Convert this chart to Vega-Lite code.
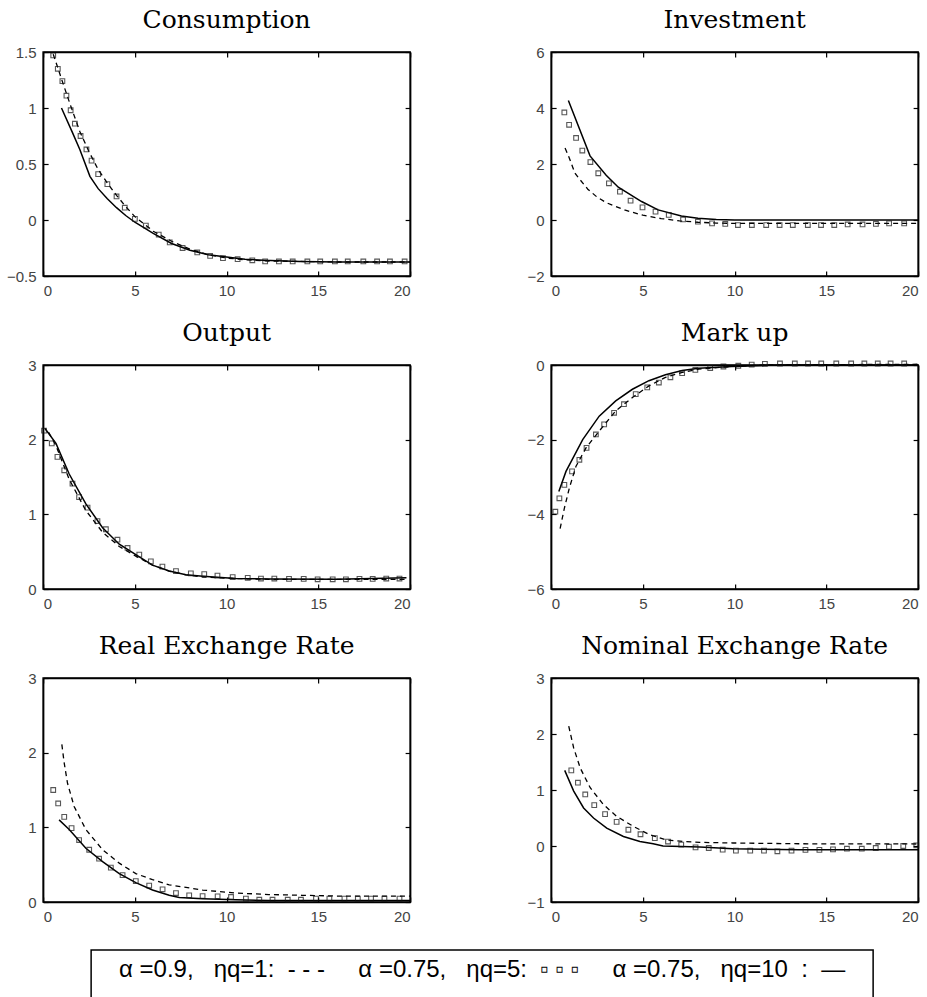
{
  "$schema": "https://vega.github.io/schema/vega-lite/v6.json",
  "background": "white",
  "padding": {"left": 5, "top": 7, "right": 5, "bottom": 5},
  "config": {
    "view": {"stroke": "black", "strokeWidth": 1.5},
    "axis": {"grid": false, "domainColor": "black", "domainWidth": 1.5, "tickColor": "black", "tickWidth": 1.2, "tickSize": -5, "labelPadding": 12, "labelFont": "Liberation Sans", "labelFontSize": 15, "labelColor": "#444", "format": "~g"},
    "title": {"font": "DejaVu Serif", "fontSize": 25, "fontWeight": "normal", "color": "black", "offset": 12, "anchor": "middle"},
    "line": {"color": "black"},
    "point": {"color": "#111"}
  },
  "datasets": {
    "d": [
      {"p":"C","s":"d","x":0.55,"y":1.48},{"p":"C","s":"d","x":0.8,"y":1.36},{"p":"C","s":"d","x":1,"y":1.26},{"p":"C","s":"d","x":1.5,"y":1.02},{"p":"C","s":"d","x":2,"y":0.79},{"p":"C","s":"d","x":2.5,"y":0.61},{"p":"C","s":"d","x":3,"y":0.45},{"p":"C","s":"d","x":3.5,"y":0.33},{"p":"C","s":"d","x":4,"y":0.22},{"p":"C","s":"d","x":4.5,"y":0.12},{"p":"C","s":"d","x":5,"y":0.03},{"p":"C","s":"d","x":6,"y":-0.1},{"p":"C","s":"d","x":7,"y":-0.19},{"p":"C","s":"d","x":8,"y":-0.26},{"p":"C","s":"d","x":9,"y":-0.31},{"p":"C","s":"d","x":10,"y":-0.34},{"p":"C","s":"d","x":11,"y":-0.355},{"p":"C","s":"d","x":12,"y":-0.365},{"p":"C","s":"d","x":14,"y":-0.37},{"p":"C","s":"d","x":16,"y":-0.375},{"p":"C","s":"d","x":18,"y":-0.375},{"p":"C","s":"d","x":20,"y":-0.375},
      {"p":"C","s":"l","x":1,"y":1.0},{"p":"C","s":"l","x":1.6,"y":0.78},{"p":"C","s":"l","x":2,"y":0.63},{"p":"C","s":"l","x":2.55,"y":0.39},{"p":"C","s":"l","x":3,"y":0.28},{"p":"C","s":"l","x":3.5,"y":0.19},{"p":"C","s":"l","x":4,"y":0.11},{"p":"C","s":"l","x":4.5,"y":0.04},{"p":"C","s":"l","x":5,"y":-0.02},{"p":"C","s":"l","x":6,"y":-0.12},{"p":"C","s":"l","x":7,"y":-0.21},{"p":"C","s":"l","x":8,"y":-0.27},{"p":"C","s":"l","x":9,"y":-0.31},{"p":"C","s":"l","x":10,"y":-0.33},{"p":"C","s":"l","x":11,"y":-0.35},{"p":"C","s":"l","x":12,"y":-0.36},{"p":"C","s":"l","x":14,"y":-0.37},{"p":"C","s":"l","x":16,"y":-0.375},{"p":"C","s":"l","x":18,"y":-0.375},{"p":"C","s":"l","x":20,"y":-0.375},
      {"p":"C","s":"q","x":0.55,"y":1.47},{"p":"C","s":"q","x":0.8,"y":1.35},{"p":"C","s":"q","x":1.05,"y":1.24},{"p":"C","s":"q","x":1.27,"y":1.11},{"p":"C","s":"q","x":1.5,"y":0.98},{"p":"C","s":"q","x":1.73,"y":0.86},{"p":"C","s":"q","x":2.04,"y":0.75},{"p":"C","s":"q","x":2.36,"y":0.63},{"p":"C","s":"q","x":2.64,"y":0.53},{"p":"C","s":"q","x":3.0,"y":0.41},{"p":"C","s":"q","x":3.5,"y":0.32},{"p":"C","s":"q","x":4.0,"y":0.21},{"p":"C","s":"q","x":4.45,"y":0.11},{"p":"C","s":"q","x":5.0,"y":0.01},{"p":"C","s":"q","x":5.6,"y":-0.05},{"p":"C","s":"q","x":6.3,"y":-0.13},{"p":"C","s":"q","x":6.9,"y":-0.2},{"p":"C","s":"q","x":7.6,"y":-0.25},{"p":"C","s":"q","x":8.4,"y":-0.29},{"p":"C","s":"q","x":9.1,"y":-0.32},{"p":"C","s":"q","x":9.8,"y":-0.34},{"p":"C","s":"q","x":10.6,"y":-0.35},{"p":"C","s":"q","x":11.4,"y":-0.36},{"p":"C","s":"q","x":12.1,"y":-0.37},{"p":"C","s":"q","x":12.85,"y":-0.37},{"p":"C","s":"q","x":13.6,"y":-0.37},{"p":"C","s":"q","x":14.4,"y":-0.37},{"p":"C","s":"q","x":15.1,"y":-0.37},{"p":"C","s":"q","x":15.9,"y":-0.37},{"p":"C","s":"q","x":16.6,"y":-0.37},{"p":"C","s":"q","x":17.45,"y":-0.37},{"p":"C","s":"q","x":18.2,"y":-0.37},{"p":"C","s":"q","x":18.9,"y":-0.37},{"p":"C","s":"q","x":19.7,"y":-0.37},

      {"p":"I","s":"d","x":0.76,"y":2.57},{"p":"I","s":"d","x":1,"y":2.2},{"p":"I","s":"d","x":1.3,"y":1.67},{"p":"I","s":"d","x":1.5,"y":1.5},{"p":"I","s":"d","x":2,"y":1.1},{"p":"I","s":"d","x":2.5,"y":0.82},{"p":"I","s":"d","x":3,"y":0.62},{"p":"I","s":"d","x":4,"y":0.36},{"p":"I","s":"d","x":5,"y":0.17},{"p":"I","s":"d","x":6,"y":0.05},{"p":"I","s":"d","x":7,"y":-0.03},{"p":"I","s":"d","x":8,"y":-0.08},{"p":"I","s":"d","x":9,"y":-0.11},{"p":"I","s":"d","x":10,"y":-0.12},{"p":"I","s":"d","x":12,"y":-0.12},{"p":"I","s":"d","x":15,"y":-0.12},{"p":"I","s":"d","x":18,"y":-0.12},{"p":"I","s":"d","x":20,"y":-0.12},
      {"p":"I","s":"l","x":0.94,"y":4.27},{"p":"I","s":"l","x":2.12,"y":2.29},{"p":"I","s":"l","x":3,"y":1.6},{"p":"I","s":"l","x":3.66,"y":1.17},{"p":"I","s":"l","x":4.93,"y":0.66},{"p":"I","s":"l","x":5.83,"y":0.36},{"p":"I","s":"l","x":7.1,"y":0.14},{"p":"I","s":"l","x":8,"y":0.06},{"p":"I","s":"l","x":9,"y":0.02},{"p":"I","s":"l","x":10,"y":0.0},{"p":"I","s":"l","x":15,"y":0.0},{"p":"I","s":"l","x":20,"y":0.0},
      {"p":"I","s":"q","x":0.72,"y":3.84},{"p":"I","s":"q","x":0.98,"y":3.4},{"p":"I","s":"q","x":1.36,"y":2.93},{"p":"I","s":"q","x":1.7,"y":2.48},{"p":"I","s":"q","x":2.14,"y":2.07},{"p":"I","s":"q","x":2.57,"y":1.67},{"p":"I","s":"q","x":3.15,"y":1.31},{"p":"I","s":"q","x":3.75,"y":1.01},{"p":"I","s":"q","x":4.33,"y":0.69},{"p":"I","s":"q","x":4.98,"y":0.45},{"p":"I","s":"q","x":5.69,"y":0.3},{"p":"I","s":"q","x":6.41,"y":0.18},{"p":"I","s":"q","x":7.19,"y":0.02},{"p":"I","s":"q","x":8.0,"y":-0.06},{"p":"I","s":"q","x":8.77,"y":-0.12},{"p":"I","s":"q","x":9.49,"y":-0.14},{"p":"I","s":"q","x":10.18,"y":-0.18},{"p":"I","s":"q","x":10.94,"y":-0.18},{"p":"I","s":"q","x":11.72,"y":-0.18},{"p":"I","s":"q","x":12.45,"y":-0.18},{"p":"I","s":"q","x":13.17,"y":-0.18},{"p":"I","s":"q","x":13.99,"y":-0.18},{"p":"I","s":"q","x":14.71,"y":-0.18},{"p":"I","s":"q","x":15.43,"y":-0.18},{"p":"I","s":"q","x":16.16,"y":-0.16},{"p":"I","s":"q","x":16.97,"y":-0.16},{"p":"I","s":"q","x":17.7,"y":-0.14},{"p":"I","s":"q","x":18.42,"y":-0.12},{"p":"I","s":"q","x":19.24,"y":-0.12},

      {"p":"O","s":"d","x":0.3,"y":2.1},{"p":"O","s":"d","x":0.7,"y":1.92},{"p":"O","s":"d","x":1.42,"y":1.47},{"p":"O","s":"d","x":2.33,"y":1.05},{"p":"O","s":"d","x":3.24,"y":0.76},{"p":"O","s":"d","x":4.15,"y":0.57},{"p":"O","s":"d","x":5.05,"y":0.44},{"p":"O","s":"d","x":5.96,"y":0.32},{"p":"O","s":"d","x":6.87,"y":0.24},{"p":"O","s":"d","x":7.78,"y":0.19},{"p":"O","s":"d","x":8.7,"y":0.16},{"p":"O","s":"d","x":10.5,"y":0.14},{"p":"O","s":"d","x":12.3,"y":0.13},{"p":"O","s":"d","x":16,"y":0.13},{"p":"O","s":"d","x":19.8,"y":0.13},
      {"p":"O","s":"l","x":0.1,"y":2.15},{"p":"O","s":"l","x":0.7,"y":1.95},{"p":"O","s":"l","x":1.42,"y":1.54},{"p":"O","s":"l","x":2.33,"y":1.14},{"p":"O","s":"l","x":3.24,"y":0.82},{"p":"O","s":"l","x":4.15,"y":0.6},{"p":"O","s":"l","x":5.05,"y":0.46},{"p":"O","s":"l","x":5.96,"y":0.32},{"p":"O","s":"l","x":6.87,"y":0.24},{"p":"O","s":"l","x":7.78,"y":0.19},{"p":"O","s":"l","x":8.7,"y":0.17},{"p":"O","s":"l","x":10.5,"y":0.14},{"p":"O","s":"l","x":12.3,"y":0.135},{"p":"O","s":"l","x":16,"y":0.13},{"p":"O","s":"l","x":19.8,"y":0.15},
      {"p":"O","s":"q","x":0.05,"y":2.12},{"p":"O","s":"q","x":0.47,"y":1.95},{"p":"O","s":"q","x":0.78,"y":1.77},{"p":"O","s":"q","x":1.15,"y":1.59},{"p":"O","s":"q","x":1.6,"y":1.41},{"p":"O","s":"q","x":1.96,"y":1.23},{"p":"O","s":"q","x":2.42,"y":1.09},{"p":"O","s":"q","x":2.96,"y":0.91},{"p":"O","s":"q","x":3.42,"y":0.8},{"p":"O","s":"q","x":4.05,"y":0.66},{"p":"O","s":"q","x":4.6,"y":0.55},{"p":"O","s":"q","x":5.24,"y":0.46},{"p":"O","s":"q","x":5.87,"y":0.37},{"p":"O","s":"q","x":6.5,"y":0.3},{"p":"O","s":"q","x":7.24,"y":0.24},{"p":"O","s":"q","x":8.05,"y":0.21},{"p":"O","s":"q","x":8.78,"y":0.2},{"p":"O","s":"q","x":9.5,"y":0.18},{"p":"O","s":"q","x":10.33,"y":0.16},{"p":"O","s":"q","x":11.15,"y":0.15},{"p":"O","s":"q","x":11.87,"y":0.14},{"p":"O","s":"q","x":12.6,"y":0.14},{"p":"O","s":"q","x":13.4,"y":0.135},{"p":"O","s":"q","x":14.2,"y":0.135},{"p":"O","s":"q","x":14.96,"y":0.13},{"p":"O","s":"q","x":15.78,"y":0.13},{"p":"O","s":"q","x":16.5,"y":0.13},{"p":"O","s":"q","x":17.24,"y":0.135},{"p":"O","s":"q","x":17.96,"y":0.135},{"p":"O","s":"q","x":18.7,"y":0.14},{"p":"O","s":"q","x":19.42,"y":0.14},

      {"p":"M","s":"d","x":0.49,"y":-4.38},{"p":"M","s":"d","x":0.72,"y":-3.84},{"p":"M","s":"d","x":0.99,"y":-3.3},{"p":"M","s":"d","x":1.35,"y":-2.72},{"p":"M","s":"d","x":1.9,"y":-2.22},{"p":"M","s":"d","x":2.62,"y":-1.77},{"p":"M","s":"d","x":3.52,"y":-1.23},{"p":"M","s":"d","x":4.43,"y":-0.87},{"p":"M","s":"d","x":5.33,"y":-0.56},{"p":"M","s":"d","x":6.23,"y":-0.33},{"p":"M","s":"d","x":7.14,"y":-0.2},{"p":"M","s":"d","x":8.04,"y":-0.11},{"p":"M","s":"d","x":9.85,"y":-0.04},{"p":"M","s":"d","x":11.65,"y":0.0},{"p":"M","s":"d","x":20,"y":0.02},
      {"p":"M","s":"l","x":0.42,"y":-3.39},{"p":"M","s":"l","x":0.81,"y":-2.85},{"p":"M","s":"l","x":1.72,"y":-2.0},{"p":"M","s":"l","x":2.62,"y":-1.37},{"p":"M","s":"l","x":3.52,"y":-0.96},{"p":"M","s":"l","x":4.43,"y":-0.65},{"p":"M","s":"l","x":5.33,"y":-0.42},{"p":"M","s":"l","x":6.23,"y":-0.26},{"p":"M","s":"l","x":7.14,"y":-0.15},{"p":"M","s":"l","x":8.04,"y":-0.09},{"p":"M","s":"l","x":9.85,"y":-0.04},{"p":"M","s":"l","x":11.65,"y":-0.01},{"p":"M","s":"l","x":13,"y":0.0},{"p":"M","s":"l","x":20,"y":0.0},
      {"p":"M","s":"q","x":0.23,"y":-3.93},{"p":"M","s":"q","x":0.45,"y":-3.57},{"p":"M","s":"q","x":0.72,"y":-3.21},{"p":"M","s":"q","x":1.14,"y":-2.85},{"p":"M","s":"q","x":1.54,"y":-2.54},{"p":"M","s":"q","x":1.93,"y":-2.22},{"p":"M","s":"q","x":2.44,"y":-1.86},{"p":"M","s":"q","x":2.89,"y":-1.59},{"p":"M","s":"q","x":3.43,"y":-1.28},{"p":"M","s":"q","x":3.97,"y":-1.05},{"p":"M","s":"q","x":4.61,"y":-0.78},{"p":"M","s":"q","x":5.24,"y":-0.6},{"p":"M","s":"q","x":5.87,"y":-0.47},{"p":"M","s":"q","x":6.5,"y":-0.33},{"p":"M","s":"q","x":7.14,"y":-0.22},{"p":"M","s":"q","x":7.86,"y":-0.13},{"p":"M","s":"q","x":8.67,"y":-0.08},{"p":"M","s":"q","x":9.39,"y":-0.04},{"p":"M","s":"q","x":10.2,"y":-0.02},{"p":"M","s":"q","x":10.93,"y":0.01},{"p":"M","s":"q","x":11.65,"y":0.03},{"p":"M","s":"q","x":12.47,"y":0.04},{"p":"M","s":"q","x":13.28,"y":0.04},{"p":"M","s":"q","x":14.0,"y":0.04},{"p":"M","s":"q","x":14.72,"y":0.04},{"p":"M","s":"q","x":15.54,"y":0.04},{"p":"M","s":"q","x":16.35,"y":0.04},{"p":"M","s":"q","x":17.07,"y":0.04},{"p":"M","s":"q","x":17.8,"y":0.04},{"p":"M","s":"q","x":18.5,"y":0.04},{"p":"M","s":"q","x":19.24,"y":0.04},

      {"p":"R","s":"d","x":1.02,"y":2.11},{"p":"R","s":"d","x":1.15,"y":1.86},{"p":"R","s":"d","x":1.33,"y":1.59},{"p":"R","s":"d","x":1.69,"y":1.28},{"p":"R","s":"d","x":2.33,"y":0.97},{"p":"R","s":"d","x":3.24,"y":0.7},{"p":"R","s":"d","x":4.15,"y":0.52},{"p":"R","s":"d","x":5.05,"y":0.38},{"p":"R","s":"d","x":5.96,"y":0.3},{"p":"R","s":"d","x":6.87,"y":0.23},{"p":"R","s":"d","x":8.69,"y":0.16},{"p":"R","s":"d","x":10.5,"y":0.12},{"p":"R","s":"d","x":12.3,"y":0.1},{"p":"R","s":"d","x":14.1,"y":0.09},{"p":"R","s":"d","x":16,"y":0.08},{"p":"R","s":"d","x":20,"y":0.08},
      {"p":"R","s":"l","x":0.87,"y":1.1},{"p":"R","s":"l","x":1.42,"y":0.97},{"p":"R","s":"l","x":2.33,"y":0.72},{"p":"R","s":"l","x":3.24,"y":0.54},{"p":"R","s":"l","x":4.15,"y":0.38},{"p":"R","s":"l","x":5.05,"y":0.26},{"p":"R","s":"l","x":5.96,"y":0.16},{"p":"R","s":"l","x":6.87,"y":0.09},{"p":"R","s":"l","x":7.42,"y":0.06},{"p":"R","s":"l","x":8.69,"y":0.045},{"p":"R","s":"l","x":10.5,"y":0.03},{"p":"R","s":"l","x":12.3,"y":0.02},{"p":"R","s":"l","x":20,"y":0.02},
      {"p":"R","s":"q","x":0.55,"y":1.5},{"p":"R","s":"q","x":0.82,"y":1.32},{"p":"R","s":"q","x":1.15,"y":1.14},{"p":"R","s":"q","x":1.55,"y":0.99},{"p":"R","s":"q","x":1.96,"y":0.83},{"p":"R","s":"q","x":2.51,"y":0.7},{"p":"R","s":"q","x":3.05,"y":0.58},{"p":"R","s":"q","x":3.69,"y":0.46},{"p":"R","s":"q","x":4.33,"y":0.36},{"p":"R","s":"q","x":5.05,"y":0.28},{"p":"R","s":"q","x":5.78,"y":0.22},{"p":"R","s":"q","x":6.51,"y":0.17},{"p":"R","s":"q","x":7.24,"y":0.12},{"p":"R","s":"q","x":7.96,"y":0.09},{"p":"R","s":"q","x":8.69,"y":0.08},{"p":"R","s":"q","x":9.51,"y":0.076},{"p":"R","s":"q","x":10.24,"y":0.067},{"p":"R","s":"q","x":11.05,"y":0.045},{"p":"R","s":"q","x":11.78,"y":0.03},{"p":"R","s":"q","x":12.5,"y":0.03},{"p":"R","s":"q","x":13.33,"y":0.03},{"p":"R","s":"q","x":14.05,"y":0.03},{"p":"R","s":"q","x":14.87,"y":0.045},{"p":"R","s":"q","x":15.6,"y":0.045},{"p":"R","s":"q","x":16.42,"y":0.045},{"p":"R","s":"q","x":17.15,"y":0.045},{"p":"R","s":"q","x":17.87,"y":0.045},{"p":"R","s":"q","x":18.6,"y":0.045},{"p":"R","s":"q","x":19.42,"y":0.045},

      {"p":"N","s":"d","x":0.96,"y":2.14},{"p":"N","s":"d","x":1.23,"y":1.75},{"p":"N","s":"d","x":1.59,"y":1.39},{"p":"N","s":"d","x":2.13,"y":1.04},{"p":"N","s":"d","x":2.85,"y":0.74},{"p":"N","s":"d","x":3.57,"y":0.53},{"p":"N","s":"d","x":4.48,"y":0.35},{"p":"N","s":"d","x":5.38,"y":0.2},{"p":"N","s":"d","x":6.28,"y":0.11},{"p":"N","s":"d","x":7.18,"y":0.08},{"p":"N","s":"d","x":8.09,"y":0.065},{"p":"N","s":"d","x":9.9,"y":0.054},{"p":"N","s":"d","x":13.5,"y":0.04},{"p":"N","s":"d","x":20,"y":0.036},
      {"p":"N","s":"l","x":0.74,"y":1.35},{"p":"N","s":"l","x":1.23,"y":0.98},{"p":"N","s":"l","x":1.77,"y":0.68},{"p":"N","s":"l","x":2.31,"y":0.5},{"p":"N","s":"l","x":3.03,"y":0.32},{"p":"N","s":"l","x":3.94,"y":0.17},{"p":"N","s":"l","x":4.84,"y":0.08},{"p":"N","s":"l","x":5.56,"y":0.04},{"p":"N","s":"l","x":6.1,"y":0.0},{"p":"N","s":"l","x":8.1,"y":-0.02},{"p":"N","s":"l","x":9.9,"y":-0.05},{"p":"N","s":"l","x":13.5,"y":-0.065},{"p":"N","s":"l","x":20,"y":-0.065},
      {"p":"N","s":"q","x":1.1,"y":1.35},{"p":"N","s":"q","x":1.46,"y":1.13},{"p":"N","s":"q","x":1.86,"y":0.92},{"p":"N","s":"q","x":2.35,"y":0.73},{"p":"N","s":"q","x":2.94,"y":0.57},{"p":"N","s":"q","x":3.57,"y":0.43},{"p":"N","s":"q","x":4.21,"y":0.29},{"p":"N","s":"q","x":4.87,"y":0.21},{"p":"N","s":"q","x":5.65,"y":0.14},{"p":"N","s":"q","x":6.37,"y":0.08},{"p":"N","s":"q","x":7.09,"y":0.024},{"p":"N","s":"q","x":7.87,"y":-0.024},{"p":"N","s":"q","x":8.59,"y":-0.036},{"p":"N","s":"q","x":9.35,"y":-0.065},{"p":"N","s":"q","x":10.07,"y":-0.083},{"p":"N","s":"q","x":10.85,"y":-0.083},{"p":"N","s":"q","x":11.6,"y":-0.083},{"p":"N","s":"q","x":12.33,"y":-0.095},{"p":"N","s":"q","x":13.1,"y":-0.083},{"p":"N","s":"q","x":13.86,"y":-0.07},{"p":"N","s":"q","x":14.62,"y":-0.07},{"p":"N","s":"q","x":15.36,"y":-0.06},{"p":"N","s":"q","x":16.12,"y":-0.048},{"p":"N","s":"q","x":16.93,"y":-0.048},{"p":"N","s":"q","x":17.69,"y":-0.036},{"p":"N","s":"q","x":18.41,"y":-0.012},{"p":"N","s":"q","x":19.19,"y":0.0},{"p":"N","s":"q","x":19.9,"y":0.012}
    ]
  },
  "vconcat": [
    {
      "columns": 2,
      "bounds": "flush",
      "spacing": {"row": 89, "column": 141},
      "concat": [
        {
          "title": "Consumption", "width": 367, "height": 224,
          "data": {"name": "d"}, "transform": [{"filter": "datum.p === 'C'"}],
          "layer": [
            {"transform": [{"filter": "datum.s === 'd'"}], "mark": {"type": "line", "strokeDash": [5, 4], "strokeWidth": 1.3},
             "encoding": {"x": {"field": "x", "type": "quantitative", "title": null, "scale": {"domain": [0, 20], "nice": false}, "axis": {"orient": "top", "labels": false, "values": [0, 5, 10, 15, 20]}},
                          "y": {"field": "y", "type": "quantitative", "title": null, "scale": {"domain": [-0.5, 1.5], "nice": false, "zero": false}, "axis": {"orient": "right", "labels": false, "values": [-0.5, 0, 0.5, 1, 1.5]}}}},
            {"transform": [{"filter": "datum.s === 'l'"}], "mark": {"type": "line", "strokeWidth": 1.5},
             "encoding": {"x": {"field": "x", "type": "quantitative", "title": null, "axis": {"orient": "bottom", "values": [0, 5, 10, 15, 20]}},
                          "y": {"field": "y", "type": "quantitative", "title": null, "axis": {"orient": "left", "values": [-0.5, 0, 0.5, 1, 1.5]}}}},
            {"transform": [{"filter": "datum.s === 'q'"}], "mark": {"type": "point", "shape": "square", "filled": false, "size": 22, "strokeWidth": 1.1},
             "encoding": {"x": {"field": "x", "type": "quantitative", "axis": null}, "y": {"field": "y", "type": "quantitative", "axis": null}}}
          ],
          "resolve": {"axis": {"x": "independent", "y": "independent"}}
        },
        {
          "title": "Investment", "width": 367, "height": 224,
          "data": {"name": "d"}, "transform": [{"filter": "datum.p === 'I'"}],
          "layer": [
            {"transform": [{"filter": "datum.s === 'd'"}], "mark": {"type": "line", "strokeDash": [5, 4], "strokeWidth": 1.3},
             "encoding": {"x": {"field": "x", "type": "quantitative", "title": null, "scale": {"domain": [0, 20], "nice": false}, "axis": {"orient": "top", "labels": false, "values": [0, 5, 10, 15, 20]}},
                          "y": {"field": "y", "type": "quantitative", "title": null, "scale": {"domain": [-2, 6], "nice": false, "zero": false}, "axis": {"orient": "right", "labels": false, "values": [-2, 0, 2, 4, 6]}}}},
            {"transform": [{"filter": "datum.s === 'l'"}], "mark": {"type": "line", "strokeWidth": 1.5},
             "encoding": {"x": {"field": "x", "type": "quantitative", "title": null, "axis": {"orient": "bottom", "values": [0, 5, 10, 15, 20]}},
                          "y": {"field": "y", "type": "quantitative", "title": null, "axis": {"orient": "left", "values": [-2, 0, 2, 4, 6]}}}},
            {"transform": [{"filter": "datum.s === 'q'"}], "mark": {"type": "point", "shape": "square", "filled": false, "size": 22, "strokeWidth": 1.1},
             "encoding": {"x": {"field": "x", "type": "quantitative", "axis": null}, "y": {"field": "y", "type": "quantitative", "axis": null}}}
          ],
          "resolve": {"axis": {"x": "independent", "y": "independent"}}
        },
        {
          "title": "Output", "width": 367, "height": 224,
          "data": {"name": "d"}, "transform": [{"filter": "datum.p === 'O'"}],
          "layer": [
            {"transform": [{"filter": "datum.s === 'd'"}], "mark": {"type": "line", "strokeDash": [5, 4], "strokeWidth": 1.3},
             "encoding": {"x": {"field": "x", "type": "quantitative", "title": null, "scale": {"domain": [0, 20], "nice": false}, "axis": {"orient": "top", "labels": false, "values": [0, 5, 10, 15, 20]}},
                          "y": {"field": "y", "type": "quantitative", "title": null, "scale": {"domain": [0, 3], "nice": false, "zero": false}, "axis": {"orient": "right", "labels": false, "values": [0, 1, 2, 3]}}}},
            {"transform": [{"filter": "datum.s === 'l'"}], "mark": {"type": "line", "strokeWidth": 1.5},
             "encoding": {"x": {"field": "x", "type": "quantitative", "title": null, "axis": {"orient": "bottom", "values": [0, 5, 10, 15, 20]}},
                          "y": {"field": "y", "type": "quantitative", "title": null, "axis": {"orient": "left", "values": [0, 1, 2, 3]}}}},
            {"transform": [{"filter": "datum.s === 'q'"}], "mark": {"type": "point", "shape": "square", "filled": false, "size": 22, "strokeWidth": 1.1},
             "encoding": {"x": {"field": "x", "type": "quantitative", "axis": null}, "y": {"field": "y", "type": "quantitative", "axis": null}}}
          ],
          "resolve": {"axis": {"x": "independent", "y": "independent"}}
        },
        {
          "title": "Mark up", "width": 367, "height": 224,
          "data": {"name": "d"}, "transform": [{"filter": "datum.p === 'M'"}],
          "layer": [
            {"transform": [{"filter": "datum.s === 'd'"}], "mark": {"type": "line", "strokeDash": [5, 4], "strokeWidth": 1.3},
             "encoding": {"x": {"field": "x", "type": "quantitative", "title": null, "scale": {"domain": [0, 20], "nice": false}, "axis": {"orient": "top", "labels": false, "values": [0, 5, 10, 15, 20]}},
                          "y": {"field": "y", "type": "quantitative", "title": null, "scale": {"domain": [-6, 0], "nice": false, "zero": false}, "axis": {"orient": "right", "labels": false, "values": [-6, -4, -2, 0]}}}},
            {"transform": [{"filter": "datum.s === 'l'"}], "mark": {"type": "line", "strokeWidth": 1.5},
             "encoding": {"x": {"field": "x", "type": "quantitative", "title": null, "axis": {"orient": "bottom", "values": [0, 5, 10, 15, 20]}},
                          "y": {"field": "y", "type": "quantitative", "title": null, "axis": {"orient": "left", "values": [-6, -4, -2, 0]}}}},
            {"transform": [{"filter": "datum.s === 'q'"}], "mark": {"type": "point", "shape": "square", "filled": false, "size": 22, "strokeWidth": 1.1},
             "encoding": {"x": {"field": "x", "type": "quantitative", "axis": null}, "y": {"field": "y", "type": "quantitative", "axis": null}}}
          ],
          "resolve": {"axis": {"x": "independent", "y": "independent"}}
        },
        {
          "title": "Real Exchange Rate", "width": 367, "height": 224,
          "data": {"name": "d"}, "transform": [{"filter": "datum.p === 'R'"}],
          "layer": [
            {"transform": [{"filter": "datum.s === 'd'"}], "mark": {"type": "line", "strokeDash": [5, 4], "strokeWidth": 1.3},
             "encoding": {"x": {"field": "x", "type": "quantitative", "title": null, "scale": {"domain": [0, 20], "nice": false}, "axis": {"orient": "top", "labels": false, "values": [0, 5, 10, 15, 20]}},
                          "y": {"field": "y", "type": "quantitative", "title": null, "scale": {"domain": [0, 3], "nice": false, "zero": false}, "axis": {"orient": "right", "labels": false, "values": [0, 1, 2, 3]}}}},
            {"transform": [{"filter": "datum.s === 'l'"}], "mark": {"type": "line", "strokeWidth": 1.5},
             "encoding": {"x": {"field": "x", "type": "quantitative", "title": null, "axis": {"orient": "bottom", "values": [0, 5, 10, 15, 20]}},
                          "y": {"field": "y", "type": "quantitative", "title": null, "axis": {"orient": "left", "values": [0, 1, 2, 3]}}}},
            {"transform": [{"filter": "datum.s === 'q'"}], "mark": {"type": "point", "shape": "square", "filled": false, "size": 22, "strokeWidth": 1.1},
             "encoding": {"x": {"field": "x", "type": "quantitative", "axis": null}, "y": {"field": "y", "type": "quantitative", "axis": null}}}
          ],
          "resolve": {"axis": {"x": "independent", "y": "independent"}}
        },
        {
          "title": "Nominal Exchange Rate", "width": 367, "height": 224,
          "data": {"name": "d"}, "transform": [{"filter": "datum.p === 'N'"}],
          "layer": [
            {"transform": [{"filter": "datum.s === 'd'"}], "mark": {"type": "line", "strokeDash": [5, 4], "strokeWidth": 1.3},
             "encoding": {"x": {"field": "x", "type": "quantitative", "title": null, "scale": {"domain": [0, 20], "nice": false}, "axis": {"orient": "top", "labels": false, "values": [0, 5, 10, 15, 20]}},
                          "y": {"field": "y", "type": "quantitative", "title": null, "scale": {"domain": [-1, 3], "nice": false, "zero": false}, "axis": {"orient": "right", "labels": false, "values": [-1, 0, 1, 2, 3]}}}},
            {"transform": [{"filter": "datum.s === 'l'"}], "mark": {"type": "line", "strokeWidth": 1.5},
             "encoding": {"x": {"field": "x", "type": "quantitative", "title": null, "axis": {"orient": "bottom", "values": [0, 5, 10, 15, 20]}},
                          "y": {"field": "y", "type": "quantitative", "title": null, "axis": {"orient": "left", "values": [-1, 0, 1, 2, 3]}}}},
            {"transform": [{"filter": "datum.s === 'q'"}], "mark": {"type": "point", "shape": "square", "filled": false, "size": 22, "strokeWidth": 1.1},
             "encoding": {"x": {"field": "x", "type": "quantitative", "axis": null}, "y": {"field": "y", "type": "quantitative", "axis": null}}}
          ],
          "resolve": {"axis": {"x": "independent", "y": "independent"}}
        }
      ]
    },
    {
      "width": 782, "height": 50,
      "data": {"values": [{"label": "α\u00a0=0.9,\u00a0\u00a0\u00a0ηq=1:\u00a0\u00a0-\u00a0-\u00a0-\u00a0\u00a0\u00a0\u00a0\u00a0α\u00a0=0.75,\u00a0\u00a0\u00a0ηq=5:\u00a0\u00a0▫\u00a0▫\u00a0▫\u00a0\u00a0\u00a0\u00a0\u00a0α\u00a0=0.75,\u00a0\u00a0\u00a0ηq=10\u00a0\u00a0:\u00a0\u00a0—"}]},
      "layer": [
        {"mark": {"type": "rect", "fill": null, "fillOpacity": 0, "stroke": "black", "strokeWidth": 1.5}, "encoding": {}},
        {"mark": {"type": "text", "font": "Liberation Sans", "fontSize": 24, "color": "black", "dy": -5}, "encoding": {"text": {"field": "label"}}}
      ]
    }
  ],
  "spacing": 24,
  "center": true
}
